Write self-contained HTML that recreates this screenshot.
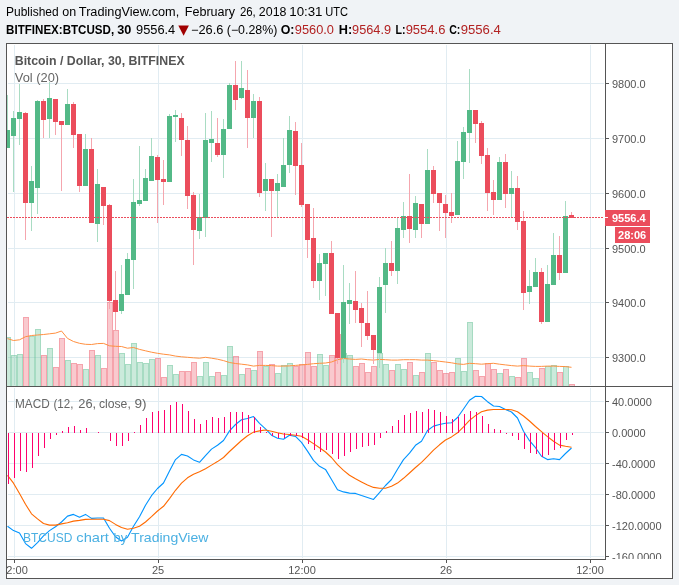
<!DOCTYPE html>
<html><head><meta charset="utf-8"><title>BTCUSD chart</title>
<style>html,body{margin:0;padding:0;background:#f0f3f6}body{width:679px;height:585px;overflow:hidden;font-family:"Liberation Sans",sans-serif}</style></head>
<body>
<svg width="679" height="585" viewBox="0 0 679 585" style="display:block;will-change:transform;font-family:'Liberation Sans',sans-serif">
<rect width="679" height="585" fill="#f0f3f6"/>
<rect x="6" y="43" width="667" height="536" fill="#555555"/>
<rect x="7" y="44" width="665" height="534" fill="#ffffff"/>
<defs>
<clipPath id="main"><rect x="7" y="44" width="598" height="342"/></clipPath>
<clipPath id="macd"><rect x="7" y="387" width="598" height="172"/></clipPath>
<clipPath id="ax2"><rect x="606" y="387" width="66" height="172"/></clipPath>
<clipPath id="tax"><rect x="7" y="560" width="599" height="18"/></clipPath>
</defs>
<g fill="#e1ecf2" shape-rendering="crispEdges">
<rect x="14" y="45" width="1" height="340"/><rect x="14" y="388" width="1" height="170"/>
<rect x="158" y="45" width="1" height="340"/><rect x="158" y="388" width="1" height="170"/>
<rect x="302" y="45" width="1" height="340"/><rect x="302" y="388" width="1" height="170"/>
<rect x="446" y="45" width="1" height="340"/><rect x="446" y="388" width="1" height="170"/>
<rect x="590" y="45" width="1" height="340"/><rect x="590" y="388" width="1" height="170"/>
<rect x="8" y="83" width="596" height="1"/>
<rect x="8" y="138" width="596" height="1"/>
<rect x="8" y="193" width="596" height="1"/>
<rect x="8" y="248" width="596" height="1"/>
<rect x="8" y="302" width="596" height="1"/>
<rect x="8" y="357" width="596" height="1"/>
<rect x="8" y="401" width="596" height="1"/>
<rect x="8" y="432" width="596" height="1"/>
<rect x="8" y="463" width="596" height="1"/>
<rect x="8" y="494" width="596" height="1"/>
<rect x="8" y="525" width="596" height="1"/>
<rect x="8" y="556" width="596" height="1"/>
</g>
<g clip-path="url(#main)" shape-rendering="crispEdges">
<rect x="5" y="337" width="6" height="49" fill="#53b987" fill-opacity="0.3"/>
<path d="M5 337h6v49h-1v-48h-4v48h-1z" fill="#53b987" fill-opacity="0.3"/>
<rect x="11" y="355" width="6" height="31" fill="#53b987" fill-opacity="0.3"/>
<path d="M11 355h6v31h-1v-30h-4v30h-1z" fill="#53b987" fill-opacity="0.3"/>
<rect x="17" y="354" width="6" height="32" fill="#53b987" fill-opacity="0.3"/>
<path d="M17 354h6v32h-1v-31h-4v31h-1z" fill="#53b987" fill-opacity="0.3"/>
<rect x="23" y="317" width="6" height="69" fill="#eb4d5c" fill-opacity="0.3"/>
<path d="M23 317h6v69h-1v-68h-4v68h-1z" fill="#eb4d5c" fill-opacity="0.3"/>
<rect x="29" y="336" width="6" height="50" fill="#53b987" fill-opacity="0.3"/>
<path d="M29 336h6v50h-1v-49h-4v49h-1z" fill="#53b987" fill-opacity="0.3"/>
<rect x="35" y="329" width="6" height="57" fill="#53b987" fill-opacity="0.3"/>
<path d="M35 329h6v57h-1v-56h-4v56h-1z" fill="#53b987" fill-opacity="0.3"/>
<rect x="41" y="355" width="6" height="31" fill="#eb4d5c" fill-opacity="0.3"/>
<path d="M41 355h6v31h-1v-30h-4v30h-1z" fill="#eb4d5c" fill-opacity="0.3"/>
<rect x="47" y="348" width="6" height="38" fill="#53b987" fill-opacity="0.3"/>
<path d="M47 348h6v38h-1v-37h-4v37h-1z" fill="#53b987" fill-opacity="0.3"/>
<rect x="53" y="367" width="6" height="19" fill="#eb4d5c" fill-opacity="0.3"/>
<path d="M53 367h6v19h-1v-18h-4v18h-1z" fill="#eb4d5c" fill-opacity="0.3"/>
<rect x="59" y="338" width="6" height="48" fill="#eb4d5c" fill-opacity="0.3"/>
<path d="M59 338h6v48h-1v-47h-4v47h-1z" fill="#eb4d5c" fill-opacity="0.3"/>
<rect x="65" y="360" width="6" height="26" fill="#53b987" fill-opacity="0.3"/>
<path d="M65 360h6v26h-1v-25h-4v25h-1z" fill="#53b987" fill-opacity="0.3"/>
<rect x="71" y="363" width="6" height="23" fill="#eb4d5c" fill-opacity="0.3"/>
<path d="M71 363h6v23h-1v-22h-4v22h-1z" fill="#eb4d5c" fill-opacity="0.3"/>
<rect x="77" y="364" width="6" height="22" fill="#eb4d5c" fill-opacity="0.3"/>
<path d="M77 364h6v22h-1v-21h-4v21h-1z" fill="#eb4d5c" fill-opacity="0.3"/>
<rect x="83" y="369" width="6" height="17" fill="#53b987" fill-opacity="0.3"/>
<path d="M83 369h6v17h-1v-16h-4v16h-1z" fill="#53b987" fill-opacity="0.3"/>
<rect x="89" y="350" width="6" height="36" fill="#eb4d5c" fill-opacity="0.3"/>
<path d="M89 350h6v36h-1v-35h-4v35h-1z" fill="#eb4d5c" fill-opacity="0.3"/>
<rect x="95" y="355" width="6" height="31" fill="#53b987" fill-opacity="0.3"/>
<path d="M95 355h6v31h-1v-30h-4v30h-1z" fill="#53b987" fill-opacity="0.3"/>
<rect x="101" y="368" width="6" height="18" fill="#eb4d5c" fill-opacity="0.3"/>
<path d="M101 368h6v18h-1v-17h-4v17h-1z" fill="#eb4d5c" fill-opacity="0.3"/>
<rect x="107" y="302" width="6" height="84" fill="#eb4d5c" fill-opacity="0.3"/>
<path d="M107 302h6v84h-1v-83h-4v83h-1z" fill="#eb4d5c" fill-opacity="0.3"/>
<rect x="113" y="330" width="6" height="56" fill="#eb4d5c" fill-opacity="0.3"/>
<path d="M113 330h6v56h-1v-55h-4v55h-1z" fill="#eb4d5c" fill-opacity="0.3"/>
<rect x="119" y="353" width="6" height="33" fill="#53b987" fill-opacity="0.3"/>
<path d="M119 353h6v33h-1v-32h-4v32h-1z" fill="#53b987" fill-opacity="0.3"/>
<rect x="125" y="364" width="6" height="22" fill="#53b987" fill-opacity="0.3"/>
<path d="M125 364h6v22h-1v-21h-4v21h-1z" fill="#53b987" fill-opacity="0.3"/>
<rect x="131" y="343" width="6" height="43" fill="#53b987" fill-opacity="0.3"/>
<path d="M131 343h6v43h-1v-42h-4v42h-1z" fill="#53b987" fill-opacity="0.3"/>
<rect x="137" y="362" width="6" height="24" fill="#53b987" fill-opacity="0.3"/>
<path d="M137 362h6v24h-1v-23h-4v23h-1z" fill="#53b987" fill-opacity="0.3"/>
<rect x="143" y="363" width="6" height="23" fill="#53b987" fill-opacity="0.3"/>
<path d="M143 363h6v23h-1v-22h-4v22h-1z" fill="#53b987" fill-opacity="0.3"/>
<rect x="149" y="359" width="6" height="27" fill="#53b987" fill-opacity="0.3"/>
<path d="M149 359h6v27h-1v-26h-4v26h-1z" fill="#53b987" fill-opacity="0.3"/>
<rect x="155" y="358" width="6" height="28" fill="#eb4d5c" fill-opacity="0.3"/>
<path d="M155 358h6v28h-1v-27h-4v27h-1z" fill="#eb4d5c" fill-opacity="0.3"/>
<rect x="161" y="377" width="6" height="9" fill="#eb4d5c" fill-opacity="0.3"/>
<path d="M161 377h6v9h-1v-8h-4v8h-1z" fill="#eb4d5c" fill-opacity="0.3"/>
<rect x="167" y="365" width="6" height="21" fill="#53b987" fill-opacity="0.3"/>
<path d="M167 365h6v21h-1v-20h-4v20h-1z" fill="#53b987" fill-opacity="0.3"/>
<rect x="173" y="374" width="6" height="12" fill="#53b987" fill-opacity="0.3"/>
<path d="M173 374h6v12h-1v-11h-4v11h-1z" fill="#53b987" fill-opacity="0.3"/>
<rect x="179" y="371" width="6" height="15" fill="#eb4d5c" fill-opacity="0.3"/>
<path d="M179 371h6v15h-1v-14h-4v14h-1z" fill="#eb4d5c" fill-opacity="0.3"/>
<rect x="185" y="371" width="6" height="15" fill="#eb4d5c" fill-opacity="0.3"/>
<path d="M185 371h6v15h-1v-14h-4v14h-1z" fill="#eb4d5c" fill-opacity="0.3"/>
<rect x="191" y="362" width="6" height="24" fill="#eb4d5c" fill-opacity="0.3"/>
<path d="M191 362h6v24h-1v-23h-4v23h-1z" fill="#eb4d5c" fill-opacity="0.3"/>
<rect x="197" y="376" width="6" height="10" fill="#53b987" fill-opacity="0.3"/>
<path d="M197 376h6v10h-1v-9h-4v9h-1z" fill="#53b987" fill-opacity="0.3"/>
<rect x="203" y="362" width="6" height="24" fill="#53b987" fill-opacity="0.3"/>
<path d="M203 362h6v24h-1v-23h-4v23h-1z" fill="#53b987" fill-opacity="0.3"/>
<rect x="209" y="376" width="6" height="10" fill="#53b987" fill-opacity="0.3"/>
<path d="M209 376h6v10h-1v-9h-4v9h-1z" fill="#53b987" fill-opacity="0.3"/>
<rect x="215" y="372" width="6" height="14" fill="#eb4d5c" fill-opacity="0.3"/>
<path d="M215 372h6v14h-1v-13h-4v13h-1z" fill="#eb4d5c" fill-opacity="0.3"/>
<rect x="221" y="375" width="6" height="11" fill="#53b987" fill-opacity="0.3"/>
<path d="M221 375h6v11h-1v-10h-4v10h-1z" fill="#53b987" fill-opacity="0.3"/>
<rect x="227" y="346" width="6" height="40" fill="#53b987" fill-opacity="0.3"/>
<path d="M227 346h6v40h-1v-39h-4v39h-1z" fill="#53b987" fill-opacity="0.3"/>
<rect x="233" y="356" width="6" height="30" fill="#eb4d5c" fill-opacity="0.3"/>
<path d="M233 356h6v30h-1v-29h-4v29h-1z" fill="#eb4d5c" fill-opacity="0.3"/>
<rect x="239" y="374" width="6" height="12" fill="#53b987" fill-opacity="0.3"/>
<path d="M239 374h6v12h-1v-11h-4v11h-1z" fill="#53b987" fill-opacity="0.3"/>
<rect x="245" y="368" width="6" height="18" fill="#eb4d5c" fill-opacity="0.3"/>
<path d="M245 368h6v18h-1v-17h-4v17h-1z" fill="#eb4d5c" fill-opacity="0.3"/>
<rect x="251" y="370" width="6" height="16" fill="#53b987" fill-opacity="0.3"/>
<path d="M251 370h6v16h-1v-15h-4v15h-1z" fill="#53b987" fill-opacity="0.3"/>
<rect x="257" y="351" width="6" height="35" fill="#eb4d5c" fill-opacity="0.3"/>
<path d="M257 351h6v35h-1v-34h-4v34h-1z" fill="#eb4d5c" fill-opacity="0.3"/>
<rect x="263" y="366" width="6" height="20" fill="#53b987" fill-opacity="0.3"/>
<path d="M263 366h6v20h-1v-19h-4v19h-1z" fill="#53b987" fill-opacity="0.3"/>
<rect x="269" y="364" width="6" height="22" fill="#eb4d5c" fill-opacity="0.3"/>
<path d="M269 364h6v22h-1v-21h-4v21h-1z" fill="#eb4d5c" fill-opacity="0.3"/>
<rect x="275" y="373" width="6" height="13" fill="#53b987" fill-opacity="0.3"/>
<path d="M275 373h6v13h-1v-12h-4v12h-1z" fill="#53b987" fill-opacity="0.3"/>
<rect x="281" y="365" width="6" height="21" fill="#53b987" fill-opacity="0.3"/>
<path d="M281 365h6v21h-1v-20h-4v20h-1z" fill="#53b987" fill-opacity="0.3"/>
<rect x="287" y="363" width="6" height="23" fill="#53b987" fill-opacity="0.3"/>
<path d="M287 363h6v23h-1v-22h-4v22h-1z" fill="#53b987" fill-opacity="0.3"/>
<rect x="293" y="366" width="6" height="20" fill="#eb4d5c" fill-opacity="0.3"/>
<path d="M293 366h6v20h-1v-19h-4v19h-1z" fill="#eb4d5c" fill-opacity="0.3"/>
<rect x="299" y="364" width="6" height="22" fill="#eb4d5c" fill-opacity="0.3"/>
<path d="M299 364h6v22h-1v-21h-4v21h-1z" fill="#eb4d5c" fill-opacity="0.3"/>
<rect x="305" y="352" width="6" height="34" fill="#eb4d5c" fill-opacity="0.3"/>
<path d="M305 352h6v34h-1v-33h-4v33h-1z" fill="#eb4d5c" fill-opacity="0.3"/>
<rect x="311" y="366" width="6" height="20" fill="#eb4d5c" fill-opacity="0.3"/>
<path d="M311 366h6v20h-1v-19h-4v19h-1z" fill="#eb4d5c" fill-opacity="0.3"/>
<rect x="317" y="354" width="6" height="32" fill="#53b987" fill-opacity="0.3"/>
<path d="M317 354h6v32h-1v-31h-4v31h-1z" fill="#53b987" fill-opacity="0.3"/>
<rect x="323" y="365" width="6" height="21" fill="#53b987" fill-opacity="0.3"/>
<path d="M323 365h6v21h-1v-20h-4v20h-1z" fill="#53b987" fill-opacity="0.3"/>
<rect x="329" y="355" width="6" height="31" fill="#eb4d5c" fill-opacity="0.3"/>
<path d="M329 355h6v31h-1v-30h-4v30h-1z" fill="#eb4d5c" fill-opacity="0.3"/>
<rect x="335" y="334" width="6" height="52" fill="#eb4d5c" fill-opacity="0.3"/>
<path d="M335 334h6v52h-1v-51h-4v51h-1z" fill="#eb4d5c" fill-opacity="0.3"/>
<rect x="341" y="353" width="6" height="33" fill="#53b987" fill-opacity="0.3"/>
<path d="M341 353h6v33h-1v-32h-4v32h-1z" fill="#53b987" fill-opacity="0.3"/>
<rect x="347" y="355" width="6" height="31" fill="#53b987" fill-opacity="0.3"/>
<path d="M347 355h6v31h-1v-30h-4v30h-1z" fill="#53b987" fill-opacity="0.3"/>
<rect x="353" y="366" width="6" height="20" fill="#eb4d5c" fill-opacity="0.3"/>
<path d="M353 366h6v20h-1v-19h-4v19h-1z" fill="#eb4d5c" fill-opacity="0.3"/>
<rect x="359" y="363" width="6" height="23" fill="#eb4d5c" fill-opacity="0.3"/>
<path d="M359 363h6v23h-1v-22h-4v22h-1z" fill="#eb4d5c" fill-opacity="0.3"/>
<rect x="365" y="372" width="6" height="14" fill="#eb4d5c" fill-opacity="0.3"/>
<path d="M365 372h6v14h-1v-13h-4v13h-1z" fill="#eb4d5c" fill-opacity="0.3"/>
<rect x="371" y="366" width="6" height="20" fill="#eb4d5c" fill-opacity="0.3"/>
<path d="M371 366h6v20h-1v-19h-4v19h-1z" fill="#eb4d5c" fill-opacity="0.3"/>
<rect x="377" y="353" width="6" height="33" fill="#53b987" fill-opacity="0.3"/>
<path d="M377 353h6v33h-1v-32h-4v32h-1z" fill="#53b987" fill-opacity="0.3"/>
<rect x="383" y="364" width="6" height="22" fill="#53b987" fill-opacity="0.3"/>
<path d="M383 364h6v22h-1v-21h-4v21h-1z" fill="#53b987" fill-opacity="0.3"/>
<rect x="389" y="370" width="6" height="16" fill="#eb4d5c" fill-opacity="0.3"/>
<path d="M389 370h6v16h-1v-15h-4v15h-1z" fill="#eb4d5c" fill-opacity="0.3"/>
<rect x="395" y="364" width="6" height="22" fill="#53b987" fill-opacity="0.3"/>
<path d="M395 364h6v22h-1v-21h-4v21h-1z" fill="#53b987" fill-opacity="0.3"/>
<rect x="401" y="369" width="6" height="17" fill="#53b987" fill-opacity="0.3"/>
<path d="M401 369h6v17h-1v-16h-4v16h-1z" fill="#53b987" fill-opacity="0.3"/>
<rect x="407" y="362" width="6" height="24" fill="#eb4d5c" fill-opacity="0.3"/>
<path d="M407 362h6v24h-1v-23h-4v23h-1z" fill="#eb4d5c" fill-opacity="0.3"/>
<rect x="413" y="375" width="6" height="11" fill="#53b987" fill-opacity="0.3"/>
<path d="M413 375h6v11h-1v-10h-4v10h-1z" fill="#53b987" fill-opacity="0.3"/>
<rect x="419" y="372" width="6" height="14" fill="#eb4d5c" fill-opacity="0.3"/>
<path d="M419 372h6v14h-1v-13h-4v13h-1z" fill="#eb4d5c" fill-opacity="0.3"/>
<rect x="425" y="353" width="6" height="33" fill="#53b987" fill-opacity="0.3"/>
<path d="M425 353h6v33h-1v-32h-4v32h-1z" fill="#53b987" fill-opacity="0.3"/>
<rect x="431" y="362" width="6" height="24" fill="#eb4d5c" fill-opacity="0.3"/>
<path d="M431 362h6v24h-1v-23h-4v23h-1z" fill="#eb4d5c" fill-opacity="0.3"/>
<rect x="437" y="370" width="6" height="16" fill="#eb4d5c" fill-opacity="0.3"/>
<path d="M437 370h6v16h-1v-15h-4v15h-1z" fill="#eb4d5c" fill-opacity="0.3"/>
<rect x="443" y="373" width="6" height="13" fill="#eb4d5c" fill-opacity="0.3"/>
<path d="M443 373h6v13h-1v-12h-4v12h-1z" fill="#eb4d5c" fill-opacity="0.3"/>
<rect x="449" y="372" width="6" height="14" fill="#eb4d5c" fill-opacity="0.3"/>
<path d="M449 372h6v14h-1v-13h-4v13h-1z" fill="#eb4d5c" fill-opacity="0.3"/>
<rect x="455" y="358" width="6" height="28" fill="#53b987" fill-opacity="0.3"/>
<path d="M455 358h6v28h-1v-27h-4v27h-1z" fill="#53b987" fill-opacity="0.3"/>
<rect x="461" y="371" width="6" height="15" fill="#53b987" fill-opacity="0.3"/>
<path d="M461 371h6v15h-1v-14h-4v14h-1z" fill="#53b987" fill-opacity="0.3"/>
<rect x="467" y="322" width="6" height="64" fill="#53b987" fill-opacity="0.3"/>
<path d="M467 322h6v64h-1v-63h-4v63h-1z" fill="#53b987" fill-opacity="0.3"/>
<rect x="473" y="370" width="6" height="16" fill="#eb4d5c" fill-opacity="0.3"/>
<path d="M473 370h6v16h-1v-15h-4v15h-1z" fill="#eb4d5c" fill-opacity="0.3"/>
<rect x="479" y="376" width="6" height="10" fill="#eb4d5c" fill-opacity="0.3"/>
<path d="M479 376h6v10h-1v-9h-4v9h-1z" fill="#eb4d5c" fill-opacity="0.3"/>
<rect x="485" y="363" width="6" height="23" fill="#eb4d5c" fill-opacity="0.3"/>
<path d="M485 363h6v23h-1v-22h-4v22h-1z" fill="#eb4d5c" fill-opacity="0.3"/>
<rect x="491" y="369" width="6" height="17" fill="#eb4d5c" fill-opacity="0.3"/>
<path d="M491 369h6v17h-1v-16h-4v16h-1z" fill="#eb4d5c" fill-opacity="0.3"/>
<rect x="497" y="373" width="6" height="13" fill="#53b987" fill-opacity="0.3"/>
<path d="M497 373h6v13h-1v-12h-4v12h-1z" fill="#53b987" fill-opacity="0.3"/>
<rect x="503" y="369" width="6" height="17" fill="#eb4d5c" fill-opacity="0.3"/>
<path d="M503 369h6v17h-1v-16h-4v16h-1z" fill="#eb4d5c" fill-opacity="0.3"/>
<rect x="509" y="376" width="6" height="10" fill="#53b987" fill-opacity="0.3"/>
<path d="M509 376h6v10h-1v-9h-4v9h-1z" fill="#53b987" fill-opacity="0.3"/>
<rect x="515" y="377" width="6" height="9" fill="#eb4d5c" fill-opacity="0.3"/>
<path d="M515 377h6v9h-1v-8h-4v8h-1z" fill="#eb4d5c" fill-opacity="0.3"/>
<rect x="521" y="358" width="6" height="28" fill="#eb4d5c" fill-opacity="0.3"/>
<path d="M521 358h6v28h-1v-27h-4v27h-1z" fill="#eb4d5c" fill-opacity="0.3"/>
<rect x="527" y="372" width="6" height="14" fill="#53b987" fill-opacity="0.3"/>
<path d="M527 372h6v14h-1v-13h-4v13h-1z" fill="#53b987" fill-opacity="0.3"/>
<rect x="533" y="378" width="6" height="8" fill="#53b987" fill-opacity="0.3"/>
<path d="M533 378h6v8h-1v-7h-4v7h-1z" fill="#53b987" fill-opacity="0.3"/>
<rect x="539" y="368" width="6" height="18" fill="#eb4d5c" fill-opacity="0.3"/>
<path d="M539 368h6v18h-1v-17h-4v17h-1z" fill="#eb4d5c" fill-opacity="0.3"/>
<rect x="545" y="366" width="6" height="20" fill="#53b987" fill-opacity="0.3"/>
<path d="M545 366h6v20h-1v-19h-4v19h-1z" fill="#53b987" fill-opacity="0.3"/>
<rect x="551" y="365" width="6" height="21" fill="#53b987" fill-opacity="0.3"/>
<path d="M551 365h6v21h-1v-20h-4v20h-1z" fill="#53b987" fill-opacity="0.3"/>
<rect x="557" y="372" width="6" height="14" fill="#eb4d5c" fill-opacity="0.3"/>
<path d="M557 372h6v14h-1v-13h-4v13h-1z" fill="#eb4d5c" fill-opacity="0.3"/>
<rect x="563" y="366" width="6" height="20" fill="#53b987" fill-opacity="0.3"/>
<path d="M563 366h6v20h-1v-19h-4v19h-1z" fill="#53b987" fill-opacity="0.3"/>
<rect x="569" y="384" width="6" height="2" fill="#eb4d5c" fill-opacity="0.3"/>
<path d="M569 384h6v2h-1v-1h-4v1h-1z" fill="#eb4d5c" fill-opacity="0.3"/>
</g>
<polyline clip-path="url(#main)" points="7.5,338.6 13.5,340.5 19.5,339.8 25.5,336.7 31.5,335.5 37.5,335.0 43.5,334.5 49.5,333.8 55.5,333.1 61.5,331.0 67.5,338.4 73.5,341.5 79.5,343.3 85.5,344.3 91.5,344.5 97.5,343.6 103.5,343.4 109.5,345.8 115.5,346.3 121.5,346.5 127.5,348.2 133.5,347.5 139.5,349.4 145.5,350.8 151.5,352.2 157.5,353.3 163.5,354.2 169.5,354.9 175.5,356.1 181.5,356.8 187.5,357.3 193.5,357.8 199.5,358.2 205.5,357.3 211.5,358.2 217.5,359.2 223.5,360.6 229.5,362.5 235.5,363.5 241.5,364.2 247.5,364.9 253.5,366.1 259.5,365.4 265.5,365.4 271.5,365.6 277.5,366.1 283.5,366.1 289.5,365.9 295.5,365.4 301.5,364.9 307.5,364.4 313.5,363.7 319.5,363.3 325.5,363.0 331.5,362.0 337.5,359.7 343.5,358.5 349.5,359.0 355.5,359.4 361.5,359.0 367.5,359.7 373.5,360.1 379.5,359.4 385.5,359.7 391.5,360.1 397.5,360.1 403.5,359.7 409.5,359.7 415.5,359.7 421.5,360.1 427.5,360.1 433.5,360.6 439.5,361.3 445.5,362.0 451.5,362.8 457.5,363.9 463.5,364.4 469.5,363.3 475.5,363.7 481.5,364.2 487.5,363.7 493.5,363.3 499.5,364.2 505.5,364.9 511.5,365.6 517.5,366.1 523.5,365.6 529.5,366.1 535.5,366.4 541.5,366.4 547.5,366.1 553.5,366.1 559.5,366.4 565.5,366.6 571.5,367.3" fill="none" stroke="#ff9040" stroke-width="1" stroke-linejoin="round"/>
<g clip-path="url(#main)" shape-rendering="crispEdges">
<rect x="7" y="95" width="1" height="53" fill="#a9dcc3"/>
<rect x="5" y="130" width="5" height="18" fill="#53b987"/>
<rect x="13" y="111" width="1" height="81" fill="#a9dcc3"/>
<rect x="11" y="118" width="5" height="18" fill="#53b987"/>
<rect x="19" y="84" width="1" height="61" fill="#a9dcc3"/>
<rect x="17" y="112" width="5" height="7" fill="#53b987"/>
<rect x="25" y="112" width="1" height="128" fill="#f5a6ae"/>
<rect x="23" y="113" width="5" height="90" fill="#eb4d5c"/>
<rect x="31" y="166" width="1" height="65" fill="#a9dcc3"/>
<rect x="29" y="181" width="5" height="22" fill="#53b987"/>
<rect x="37" y="100" width="1" height="114" fill="#a9dcc3"/>
<rect x="35" y="101" width="5" height="87" fill="#53b987"/>
<rect x="43" y="99" width="1" height="39" fill="#f5a6ae"/>
<rect x="41" y="101" width="5" height="19" fill="#eb4d5c"/>
<rect x="49" y="82" width="1" height="56" fill="#a9dcc3"/>
<rect x="47" y="98" width="5" height="21" fill="#53b987"/>
<rect x="55" y="99" width="1" height="36" fill="#f5a6ae"/>
<rect x="53" y="99" width="5" height="23" fill="#eb4d5c"/>
<rect x="61" y="121" width="1" height="70" fill="#f5a6ae"/>
<rect x="59" y="121" width="5" height="4" fill="#eb4d5c"/>
<rect x="67" y="89" width="1" height="36" fill="#a9dcc3"/>
<rect x="65" y="104" width="5" height="21" fill="#53b987"/>
<rect x="73" y="102" width="1" height="46" fill="#f5a6ae"/>
<rect x="71" y="104" width="5" height="31" fill="#eb4d5c"/>
<rect x="79" y="134" width="1" height="58" fill="#f5a6ae"/>
<rect x="77" y="134" width="5" height="52" fill="#eb4d5c"/>
<rect x="85" y="134" width="1" height="52" fill="#a9dcc3"/>
<rect x="83" y="149" width="5" height="37" fill="#53b987"/>
<rect x="91" y="138" width="1" height="85" fill="#f5a6ae"/>
<rect x="89" y="149" width="5" height="74" fill="#eb4d5c"/>
<rect x="97" y="169" width="1" height="73" fill="#a9dcc3"/>
<rect x="95" y="184" width="5" height="40" fill="#53b987"/>
<rect x="103" y="187" width="1" height="38" fill="#f5a6ae"/>
<rect x="101" y="187" width="5" height="19" fill="#eb4d5c"/>
<rect x="109" y="204" width="1" height="105" fill="#f5a6ae"/>
<rect x="107" y="205" width="5" height="96" fill="#eb4d5c"/>
<rect x="115" y="271" width="1" height="60" fill="#f5a6ae"/>
<rect x="113" y="300" width="5" height="12" fill="#eb4d5c"/>
<rect x="121" y="265" width="1" height="49" fill="#a9dcc3"/>
<rect x="119" y="294" width="5" height="17" fill="#53b987"/>
<rect x="127" y="253" width="1" height="42" fill="#a9dcc3"/>
<rect x="125" y="259" width="5" height="36" fill="#53b987"/>
<rect x="133" y="179" width="1" height="110" fill="#a9dcc3"/>
<rect x="131" y="202" width="5" height="58" fill="#53b987"/>
<rect x="139" y="146" width="1" height="60" fill="#a9dcc3"/>
<rect x="137" y="200" width="5" height="4" fill="#53b987"/>
<rect x="145" y="169" width="1" height="32" fill="#a9dcc3"/>
<rect x="143" y="178" width="5" height="23" fill="#53b987"/>
<rect x="151" y="138" width="1" height="43" fill="#a9dcc3"/>
<rect x="149" y="156" width="5" height="25" fill="#53b987"/>
<rect x="157" y="155" width="1" height="68" fill="#f5a6ae"/>
<rect x="155" y="157" width="5" height="23" fill="#eb4d5c"/>
<rect x="163" y="160" width="1" height="45" fill="#f5a6ae"/>
<rect x="161" y="179" width="5" height="3" fill="#eb4d5c"/>
<rect x="169" y="114" width="1" height="68" fill="#a9dcc3"/>
<rect x="167" y="116" width="5" height="66" fill="#53b987"/>
<rect x="175" y="110" width="1" height="32" fill="#a9dcc3"/>
<rect x="173" y="115" width="5" height="2" fill="#53b987"/>
<rect x="181" y="113" width="1" height="43" fill="#f5a6ae"/>
<rect x="179" y="118" width="5" height="22" fill="#eb4d5c"/>
<rect x="187" y="126" width="1" height="83" fill="#f5a6ae"/>
<rect x="185" y="140" width="5" height="56" fill="#eb4d5c"/>
<rect x="193" y="192" width="1" height="73" fill="#f5a6ae"/>
<rect x="191" y="195" width="5" height="35" fill="#eb4d5c"/>
<rect x="199" y="194" width="1" height="45" fill="#a9dcc3"/>
<rect x="197" y="217" width="5" height="14" fill="#53b987"/>
<rect x="205" y="113" width="1" height="124" fill="#a9dcc3"/>
<rect x="203" y="140" width="5" height="78" fill="#53b987"/>
<rect x="211" y="111" width="1" height="51" fill="#a9dcc3"/>
<rect x="209" y="139" width="5" height="4" fill="#53b987"/>
<rect x="217" y="118" width="1" height="39" fill="#f5a6ae"/>
<rect x="215" y="143" width="5" height="12" fill="#eb4d5c"/>
<rect x="223" y="119" width="1" height="59" fill="#a9dcc3"/>
<rect x="221" y="129" width="5" height="26" fill="#53b987"/>
<rect x="229" y="83" width="1" height="46" fill="#a9dcc3"/>
<rect x="227" y="85" width="5" height="44" fill="#53b987"/>
<rect x="235" y="61" width="1" height="49" fill="#f5a6ae"/>
<rect x="233" y="85" width="5" height="15" fill="#eb4d5c"/>
<rect x="241" y="61" width="1" height="38" fill="#a9dcc3"/>
<rect x="239" y="88" width="5" height="10" fill="#53b987"/>
<rect x="247" y="70" width="1" height="78" fill="#f5a6ae"/>
<rect x="245" y="90" width="5" height="28" fill="#eb4d5c"/>
<rect x="253" y="94" width="1" height="44" fill="#a9dcc3"/>
<rect x="251" y="101" width="5" height="17" fill="#53b987"/>
<rect x="259" y="97" width="1" height="100" fill="#f5a6ae"/>
<rect x="257" y="101" width="5" height="92" fill="#eb4d5c"/>
<rect x="265" y="163" width="1" height="48" fill="#a9dcc3"/>
<rect x="263" y="179" width="5" height="12" fill="#53b987"/>
<rect x="271" y="179" width="1" height="58" fill="#f5a6ae"/>
<rect x="269" y="179" width="5" height="12" fill="#eb4d5c"/>
<rect x="277" y="174" width="1" height="44" fill="#a9dcc3"/>
<rect x="275" y="183" width="5" height="8" fill="#53b987"/>
<rect x="283" y="138" width="1" height="49" fill="#a9dcc3"/>
<rect x="281" y="165" width="5" height="22" fill="#53b987"/>
<rect x="289" y="116" width="1" height="57" fill="#a9dcc3"/>
<rect x="287" y="130" width="5" height="35" fill="#53b987"/>
<rect x="295" y="122" width="1" height="73" fill="#f5a6ae"/>
<rect x="293" y="131" width="5" height="35" fill="#eb4d5c"/>
<rect x="301" y="143" width="1" height="64" fill="#f5a6ae"/>
<rect x="299" y="165" width="5" height="40" fill="#eb4d5c"/>
<rect x="307" y="204" width="1" height="54" fill="#f5a6ae"/>
<rect x="305" y="204" width="5" height="36" fill="#eb4d5c"/>
<rect x="313" y="208" width="1" height="80" fill="#f5a6ae"/>
<rect x="311" y="238" width="5" height="43" fill="#eb4d5c"/>
<rect x="319" y="254" width="1" height="46" fill="#a9dcc3"/>
<rect x="317" y="263" width="5" height="18" fill="#53b987"/>
<rect x="325" y="253" width="1" height="43" fill="#a9dcc3"/>
<rect x="323" y="253" width="5" height="11" fill="#53b987"/>
<rect x="331" y="241" width="1" height="73" fill="#f5a6ae"/>
<rect x="329" y="253" width="5" height="61" fill="#eb4d5c"/>
<rect x="337" y="313" width="1" height="51" fill="#f5a6ae"/>
<rect x="335" y="313" width="5" height="45" fill="#eb4d5c"/>
<rect x="343" y="265" width="1" height="98" fill="#a9dcc3"/>
<rect x="341" y="302" width="5" height="56" fill="#53b987"/>
<rect x="349" y="283" width="1" height="41" fill="#a9dcc3"/>
<rect x="347" y="300" width="5" height="4" fill="#53b987"/>
<rect x="355" y="271" width="1" height="52" fill="#f5a6ae"/>
<rect x="353" y="301" width="5" height="9" fill="#eb4d5c"/>
<rect x="361" y="303" width="1" height="44" fill="#f5a6ae"/>
<rect x="359" y="308" width="5" height="15" fill="#eb4d5c"/>
<rect x="367" y="291" width="1" height="49" fill="#f5a6ae"/>
<rect x="365" y="323" width="5" height="13" fill="#eb4d5c"/>
<rect x="373" y="335" width="1" height="29" fill="#f5a6ae"/>
<rect x="371" y="335" width="5" height="15" fill="#eb4d5c"/>
<rect x="379" y="277" width="1" height="91" fill="#a9dcc3"/>
<rect x="377" y="287" width="5" height="66" fill="#53b987"/>
<rect x="385" y="248" width="1" height="65" fill="#a9dcc3"/>
<rect x="383" y="263" width="5" height="22" fill="#53b987"/>
<rect x="391" y="241" width="1" height="35" fill="#f5a6ae"/>
<rect x="389" y="263" width="5" height="8" fill="#eb4d5c"/>
<rect x="397" y="217" width="1" height="67" fill="#a9dcc3"/>
<rect x="395" y="228" width="5" height="43" fill="#53b987"/>
<rect x="403" y="202" width="1" height="36" fill="#a9dcc3"/>
<rect x="401" y="216" width="5" height="14" fill="#53b987"/>
<rect x="409" y="174" width="1" height="69" fill="#f5a6ae"/>
<rect x="407" y="216" width="5" height="13" fill="#eb4d5c"/>
<rect x="415" y="196" width="1" height="42" fill="#a9dcc3"/>
<rect x="413" y="203" width="5" height="27" fill="#53b987"/>
<rect x="421" y="204" width="1" height="34" fill="#f5a6ae"/>
<rect x="419" y="204" width="5" height="20" fill="#eb4d5c"/>
<rect x="427" y="149" width="1" height="75" fill="#a9dcc3"/>
<rect x="425" y="170" width="5" height="54" fill="#53b987"/>
<rect x="433" y="166" width="1" height="37" fill="#f5a6ae"/>
<rect x="431" y="170" width="5" height="24" fill="#eb4d5c"/>
<rect x="439" y="193" width="1" height="38" fill="#f5a6ae"/>
<rect x="437" y="193" width="5" height="10" fill="#eb4d5c"/>
<rect x="445" y="195" width="1" height="43" fill="#f5a6ae"/>
<rect x="443" y="204" width="5" height="9" fill="#eb4d5c"/>
<rect x="451" y="193" width="1" height="30" fill="#f5a6ae"/>
<rect x="449" y="212" width="5" height="4" fill="#eb4d5c"/>
<rect x="457" y="141" width="1" height="74" fill="#a9dcc3"/>
<rect x="455" y="161" width="5" height="54" fill="#53b987"/>
<rect x="463" y="127" width="1" height="52" fill="#a9dcc3"/>
<rect x="461" y="132" width="5" height="30" fill="#53b987"/>
<rect x="469" y="69" width="1" height="94" fill="#a9dcc3"/>
<rect x="467" y="110" width="5" height="23" fill="#53b987"/>
<rect x="475" y="110" width="1" height="33" fill="#f5a6ae"/>
<rect x="473" y="110" width="5" height="14" fill="#eb4d5c"/>
<rect x="481" y="121" width="1" height="43" fill="#f5a6ae"/>
<rect x="479" y="123" width="5" height="33" fill="#eb4d5c"/>
<rect x="487" y="148" width="1" height="63" fill="#f5a6ae"/>
<rect x="485" y="155" width="5" height="38" fill="#eb4d5c"/>
<rect x="493" y="180" width="1" height="35" fill="#f5a6ae"/>
<rect x="491" y="192" width="5" height="8" fill="#eb4d5c"/>
<rect x="499" y="157" width="1" height="43" fill="#a9dcc3"/>
<rect x="497" y="162" width="5" height="38" fill="#53b987"/>
<rect x="505" y="154" width="1" height="54" fill="#f5a6ae"/>
<rect x="503" y="162" width="5" height="32" fill="#eb4d5c"/>
<rect x="511" y="171" width="1" height="47" fill="#a9dcc3"/>
<rect x="509" y="188" width="5" height="6" fill="#53b987"/>
<rect x="517" y="176" width="1" height="54" fill="#f5a6ae"/>
<rect x="515" y="188" width="5" height="34" fill="#eb4d5c"/>
<rect x="523" y="211" width="1" height="99" fill="#f5a6ae"/>
<rect x="521" y="221" width="5" height="72" fill="#eb4d5c"/>
<rect x="529" y="270" width="1" height="34" fill="#a9dcc3"/>
<rect x="527" y="286" width="5" height="6" fill="#53b987"/>
<rect x="535" y="258" width="1" height="29" fill="#a9dcc3"/>
<rect x="533" y="272" width="5" height="15" fill="#53b987"/>
<rect x="541" y="268" width="1" height="56" fill="#f5a6ae"/>
<rect x="539" y="272" width="5" height="50" fill="#eb4d5c"/>
<rect x="547" y="265" width="1" height="57" fill="#a9dcc3"/>
<rect x="545" y="284" width="5" height="38" fill="#53b987"/>
<rect x="553" y="233" width="1" height="52" fill="#a9dcc3"/>
<rect x="551" y="255" width="5" height="30" fill="#53b987"/>
<rect x="559" y="236" width="1" height="44" fill="#f5a6ae"/>
<rect x="557" y="255" width="5" height="18" fill="#eb4d5c"/>
<rect x="565" y="201" width="1" height="72" fill="#a9dcc3"/>
<rect x="563" y="216" width="5" height="57" fill="#53b987"/>
<rect x="571" y="212" width="1" height="6" fill="#f5a6ae"/>
<rect x="569" y="215" width="5" height="3" fill="#eb4d5c"/>
</g>
<g shape-rendering="crispEdges" fill="#eb4d5c">
<rect x="7" y="217" width="2" height="1"/>
<rect x="10" y="217" width="2" height="1"/>
<rect x="13" y="217" width="2" height="1"/>
<rect x="16" y="217" width="2" height="1"/>
<rect x="19" y="217" width="2" height="1"/>
<rect x="22" y="217" width="2" height="1"/>
<rect x="25" y="217" width="2" height="1"/>
<rect x="28" y="217" width="2" height="1"/>
<rect x="31" y="217" width="2" height="1"/>
<rect x="34" y="217" width="2" height="1"/>
<rect x="37" y="217" width="2" height="1"/>
<rect x="40" y="217" width="2" height="1"/>
<rect x="43" y="217" width="2" height="1"/>
<rect x="46" y="217" width="2" height="1"/>
<rect x="49" y="217" width="2" height="1"/>
<rect x="52" y="217" width="2" height="1"/>
<rect x="55" y="217" width="2" height="1"/>
<rect x="58" y="217" width="2" height="1"/>
<rect x="61" y="217" width="2" height="1"/>
<rect x="64" y="217" width="2" height="1"/>
<rect x="67" y="217" width="2" height="1"/>
<rect x="70" y="217" width="2" height="1"/>
<rect x="73" y="217" width="2" height="1"/>
<rect x="76" y="217" width="2" height="1"/>
<rect x="79" y="217" width="2" height="1"/>
<rect x="82" y="217" width="2" height="1"/>
<rect x="85" y="217" width="2" height="1"/>
<rect x="88" y="217" width="2" height="1"/>
<rect x="91" y="217" width="2" height="1"/>
<rect x="94" y="217" width="2" height="1"/>
<rect x="97" y="217" width="2" height="1"/>
<rect x="100" y="217" width="2" height="1"/>
<rect x="103" y="217" width="2" height="1"/>
<rect x="106" y="217" width="2" height="1"/>
<rect x="109" y="217" width="2" height="1"/>
<rect x="112" y="217" width="2" height="1"/>
<rect x="115" y="217" width="2" height="1"/>
<rect x="118" y="217" width="2" height="1"/>
<rect x="121" y="217" width="2" height="1"/>
<rect x="124" y="217" width="2" height="1"/>
<rect x="127" y="217" width="2" height="1"/>
<rect x="130" y="217" width="2" height="1"/>
<rect x="133" y="217" width="2" height="1"/>
<rect x="136" y="217" width="2" height="1"/>
<rect x="139" y="217" width="2" height="1"/>
<rect x="142" y="217" width="2" height="1"/>
<rect x="145" y="217" width="2" height="1"/>
<rect x="148" y="217" width="2" height="1"/>
<rect x="151" y="217" width="2" height="1"/>
<rect x="154" y="217" width="2" height="1"/>
<rect x="157" y="217" width="2" height="1"/>
<rect x="160" y="217" width="2" height="1"/>
<rect x="163" y="217" width="2" height="1"/>
<rect x="166" y="217" width="2" height="1"/>
<rect x="169" y="217" width="2" height="1"/>
<rect x="172" y="217" width="2" height="1"/>
<rect x="175" y="217" width="2" height="1"/>
<rect x="178" y="217" width="2" height="1"/>
<rect x="181" y="217" width="2" height="1"/>
<rect x="184" y="217" width="2" height="1"/>
<rect x="187" y="217" width="2" height="1"/>
<rect x="190" y="217" width="2" height="1"/>
<rect x="193" y="217" width="2" height="1"/>
<rect x="196" y="217" width="2" height="1"/>
<rect x="199" y="217" width="2" height="1"/>
<rect x="202" y="217" width="2" height="1"/>
<rect x="205" y="217" width="2" height="1"/>
<rect x="208" y="217" width="2" height="1"/>
<rect x="211" y="217" width="2" height="1"/>
<rect x="214" y="217" width="2" height="1"/>
<rect x="217" y="217" width="2" height="1"/>
<rect x="220" y="217" width="2" height="1"/>
<rect x="223" y="217" width="2" height="1"/>
<rect x="226" y="217" width="2" height="1"/>
<rect x="229" y="217" width="2" height="1"/>
<rect x="232" y="217" width="2" height="1"/>
<rect x="235" y="217" width="2" height="1"/>
<rect x="238" y="217" width="2" height="1"/>
<rect x="241" y="217" width="2" height="1"/>
<rect x="244" y="217" width="2" height="1"/>
<rect x="247" y="217" width="2" height="1"/>
<rect x="250" y="217" width="2" height="1"/>
<rect x="253" y="217" width="2" height="1"/>
<rect x="256" y="217" width="2" height="1"/>
<rect x="259" y="217" width="2" height="1"/>
<rect x="262" y="217" width="2" height="1"/>
<rect x="265" y="217" width="2" height="1"/>
<rect x="268" y="217" width="2" height="1"/>
<rect x="271" y="217" width="2" height="1"/>
<rect x="274" y="217" width="2" height="1"/>
<rect x="277" y="217" width="2" height="1"/>
<rect x="280" y="217" width="2" height="1"/>
<rect x="283" y="217" width="2" height="1"/>
<rect x="286" y="217" width="2" height="1"/>
<rect x="289" y="217" width="2" height="1"/>
<rect x="292" y="217" width="2" height="1"/>
<rect x="295" y="217" width="2" height="1"/>
<rect x="298" y="217" width="2" height="1"/>
<rect x="301" y="217" width="2" height="1"/>
<rect x="304" y="217" width="2" height="1"/>
<rect x="307" y="217" width="2" height="1"/>
<rect x="310" y="217" width="2" height="1"/>
<rect x="313" y="217" width="2" height="1"/>
<rect x="316" y="217" width="2" height="1"/>
<rect x="319" y="217" width="2" height="1"/>
<rect x="322" y="217" width="2" height="1"/>
<rect x="325" y="217" width="2" height="1"/>
<rect x="328" y="217" width="2" height="1"/>
<rect x="331" y="217" width="2" height="1"/>
<rect x="334" y="217" width="2" height="1"/>
<rect x="337" y="217" width="2" height="1"/>
<rect x="340" y="217" width="2" height="1"/>
<rect x="343" y="217" width="2" height="1"/>
<rect x="346" y="217" width="2" height="1"/>
<rect x="349" y="217" width="2" height="1"/>
<rect x="352" y="217" width="2" height="1"/>
<rect x="355" y="217" width="2" height="1"/>
<rect x="358" y="217" width="2" height="1"/>
<rect x="361" y="217" width="2" height="1"/>
<rect x="364" y="217" width="2" height="1"/>
<rect x="367" y="217" width="2" height="1"/>
<rect x="370" y="217" width="2" height="1"/>
<rect x="373" y="217" width="2" height="1"/>
<rect x="376" y="217" width="2" height="1"/>
<rect x="379" y="217" width="2" height="1"/>
<rect x="382" y="217" width="2" height="1"/>
<rect x="385" y="217" width="2" height="1"/>
<rect x="388" y="217" width="2" height="1"/>
<rect x="391" y="217" width="2" height="1"/>
<rect x="394" y="217" width="2" height="1"/>
<rect x="397" y="217" width="2" height="1"/>
<rect x="400" y="217" width="2" height="1"/>
<rect x="403" y="217" width="2" height="1"/>
<rect x="406" y="217" width="2" height="1"/>
<rect x="409" y="217" width="2" height="1"/>
<rect x="412" y="217" width="2" height="1"/>
<rect x="415" y="217" width="2" height="1"/>
<rect x="418" y="217" width="2" height="1"/>
<rect x="421" y="217" width="2" height="1"/>
<rect x="424" y="217" width="2" height="1"/>
<rect x="427" y="217" width="2" height="1"/>
<rect x="430" y="217" width="2" height="1"/>
<rect x="433" y="217" width="2" height="1"/>
<rect x="436" y="217" width="2" height="1"/>
<rect x="439" y="217" width="2" height="1"/>
<rect x="442" y="217" width="2" height="1"/>
<rect x="445" y="217" width="2" height="1"/>
<rect x="448" y="217" width="2" height="1"/>
<rect x="451" y="217" width="2" height="1"/>
<rect x="454" y="217" width="2" height="1"/>
<rect x="457" y="217" width="2" height="1"/>
<rect x="460" y="217" width="2" height="1"/>
<rect x="463" y="217" width="2" height="1"/>
<rect x="466" y="217" width="2" height="1"/>
<rect x="469" y="217" width="2" height="1"/>
<rect x="472" y="217" width="2" height="1"/>
<rect x="475" y="217" width="2" height="1"/>
<rect x="478" y="217" width="2" height="1"/>
<rect x="481" y="217" width="2" height="1"/>
<rect x="484" y="217" width="2" height="1"/>
<rect x="487" y="217" width="2" height="1"/>
<rect x="490" y="217" width="2" height="1"/>
<rect x="493" y="217" width="2" height="1"/>
<rect x="496" y="217" width="2" height="1"/>
<rect x="499" y="217" width="2" height="1"/>
<rect x="502" y="217" width="2" height="1"/>
<rect x="505" y="217" width="2" height="1"/>
<rect x="508" y="217" width="2" height="1"/>
<rect x="511" y="217" width="2" height="1"/>
<rect x="514" y="217" width="2" height="1"/>
<rect x="517" y="217" width="2" height="1"/>
<rect x="520" y="217" width="2" height="1"/>
<rect x="523" y="217" width="2" height="1"/>
<rect x="526" y="217" width="2" height="1"/>
<rect x="529" y="217" width="2" height="1"/>
<rect x="532" y="217" width="2" height="1"/>
<rect x="535" y="217" width="2" height="1"/>
<rect x="538" y="217" width="2" height="1"/>
<rect x="541" y="217" width="2" height="1"/>
<rect x="544" y="217" width="2" height="1"/>
<rect x="547" y="217" width="2" height="1"/>
<rect x="550" y="217" width="2" height="1"/>
<rect x="553" y="217" width="2" height="1"/>
<rect x="556" y="217" width="2" height="1"/>
<rect x="559" y="217" width="2" height="1"/>
<rect x="562" y="217" width="2" height="1"/>
<rect x="565" y="217" width="2" height="1"/>
<rect x="568" y="217" width="2" height="1"/>
<rect x="571" y="217" width="2" height="1"/>
<rect x="574" y="217" width="2" height="1"/>
<rect x="577" y="217" width="2" height="1"/>
<rect x="580" y="217" width="2" height="1"/>
<rect x="583" y="217" width="2" height="1"/>
<rect x="586" y="217" width="2" height="1"/>
<rect x="589" y="217" width="2" height="1"/>
<rect x="592" y="217" width="2" height="1"/>
<rect x="595" y="217" width="2" height="1"/>
<rect x="598" y="217" width="2" height="1"/>
<rect x="601" y="217" width="2" height="1"/>
</g>
<polyline clip-path="url(#macd)" points="7.5,526.3 13.5,530.6 19.5,533.0 25.5,543.6 31.5,548.3 37.5,542.6 43.5,535.9 49.5,530.6 55.5,526.8 61.5,522.0 67.5,516.1 73.5,514.4 79.5,517.2 85.5,514.4 91.5,518.4 97.5,518.0 103.5,518.0 109.5,528.2 115.5,536.7 121.5,541.0 127.5,537.3 133.5,526.3 139.5,516.8 145.5,505.3 151.5,495.7 157.5,488.5 163.5,483.0 169.5,471.1 175.5,459.6 181.5,454.4 187.5,456.0 193.5,459.9 199.5,462.3 205.5,455.6 211.5,449.1 217.5,445.3 223.5,440.5 229.5,430.9 235.5,424.5 241.5,419.7 247.5,418.5 253.5,416.6 259.5,423.3 265.5,428.8 271.5,435.2 277.5,438.3 283.5,439.3 289.5,435.2 295.5,436.4 301.5,442.4 307.5,451.1 313.5,460.4 319.5,466.3 325.5,469.4 331.5,479.5 337.5,489.8 343.5,491.9 349.5,493.1 355.5,493.4 361.5,495.5 367.5,497.4 373.5,499.4 379.5,492.7 385.5,485.5 391.5,479.5 397.5,469.2 403.5,459.6 409.5,453.2 415.5,445.3 421.5,441.2 427.5,430.5 433.5,426.1 439.5,424.5 445.5,423.3 451.5,422.8 457.5,417.5 463.5,409.0 469.5,400.3 475.5,396.2 481.5,396.5 487.5,401.7 493.5,406.0 499.5,406.5 505.5,409.4 511.5,412.0 517.5,418.0 523.5,431.2 529.5,440.7 535.5,447.7 541.5,456.3 547.5,459.6 553.5,458.7 559.5,459.6 565.5,453.5 571.5,448.0" fill="none" stroke="#0094ff" stroke-width="1.1" stroke-linejoin="round"/>
<polyline clip-path="url(#macd)" points="7.5,475.4 13.5,483.2 19.5,493.5 25.5,504.2 31.5,513.8 37.5,518.9 43.5,523.5 49.5,525.1 55.5,525.1 61.5,523.9 67.5,522.8 73.5,521.1 79.5,520.4 85.5,519.4 91.5,519.2 97.5,519.2 103.5,519.2 109.5,520.6 115.5,524.4 121.5,527.5 127.5,529.2 133.5,528.3 139.5,526.3 145.5,522.0 151.5,516.7 157.5,511.0 163.5,506.3 169.5,498.6 175.5,490.3 181.5,483.1 187.5,477.8 193.5,474.2 199.5,471.8 205.5,468.7 211.5,465.1 217.5,461.6 223.5,457.5 229.5,451.5 235.5,446.0 241.5,440.5 247.5,435.7 253.5,432.1 259.5,430.9 265.5,430.0 271.5,431.2 277.5,432.8 283.5,434.0 289.5,434.5 295.5,435.2 301.5,436.2 307.5,439.7 313.5,443.6 319.5,447.7 325.5,452.0 331.5,457.5 337.5,464.7 343.5,470.4 349.5,475.2 355.5,478.8 361.5,481.9 367.5,485.0 373.5,487.4 379.5,488.3 385.5,488.3 391.5,486.2 397.5,483.1 403.5,478.3 409.5,473.0 415.5,467.5 421.5,462.3 427.5,456.3 433.5,450.1 439.5,444.8 445.5,440.0 451.5,436.9 457.5,432.8 463.5,426.9 469.5,420.4 475.5,415.6 481.5,411.8 487.5,410.1 493.5,409.5 499.5,409.5 505.5,409.5 511.5,409.7 517.5,411.7 523.5,416.0 529.5,421.0 535.5,426.5 541.5,431.6 547.5,436.6 553.5,441.2 559.5,445.1 565.5,446.3 571.5,447.3" fill="none" stroke="#ff6a00" stroke-width="1.1" stroke-linejoin="round"/>
<g clip-path="url(#macd)" shape-rendering="crispEdges" fill="#ff006e">
<rect x="8" y="433" width="1" height="51"/>
<rect x="14" y="433" width="1" height="45"/>
<rect x="20" y="433" width="1" height="38"/>
<rect x="26" y="433" width="1" height="39"/>
<rect x="32" y="433" width="1" height="35"/>
<rect x="38" y="433" width="1" height="23"/>
<rect x="44" y="433" width="1" height="15"/>
<rect x="50" y="433" width="1" height="6"/>
<rect x="56" y="433" width="1" height="2"/>
<rect x="62" y="431" width="1" height="2"/>
<rect x="68" y="427" width="1" height="6"/>
<rect x="74" y="426" width="1" height="7"/>
<rect x="80" y="430" width="1" height="3"/>
<rect x="86" y="428" width="1" height="5"/>
<rect x="98" y="432" width="1" height="1"/>
<rect x="110" y="433" width="1" height="8"/>
<rect x="116" y="433" width="1" height="13"/>
<rect x="122" y="433" width="1" height="13"/>
<rect x="128" y="433" width="1" height="8"/>
<rect x="134" y="432" width="1" height="1"/>
<rect x="140" y="425" width="1" height="8"/>
<rect x="146" y="418" width="1" height="15"/>
<rect x="152" y="412" width="1" height="21"/>
<rect x="158" y="411" width="1" height="22"/>
<rect x="164" y="410" width="1" height="23"/>
<rect x="170" y="405" width="1" height="28"/>
<rect x="176" y="402" width="1" height="31"/>
<rect x="182" y="404" width="1" height="29"/>
<rect x="188" y="411" width="1" height="22"/>
<rect x="194" y="419" width="1" height="14"/>
<rect x="200" y="424" width="1" height="9"/>
<rect x="206" y="420" width="1" height="13"/>
<rect x="212" y="417" width="1" height="16"/>
<rect x="218" y="418" width="1" height="15"/>
<rect x="224" y="417" width="1" height="16"/>
<rect x="230" y="412" width="1" height="21"/>
<rect x="236" y="412" width="1" height="21"/>
<rect x="242" y="412" width="1" height="21"/>
<rect x="248" y="415" width="1" height="18"/>
<rect x="254" y="417" width="1" height="16"/>
<rect x="260" y="427" width="1" height="6"/>
<rect x="266" y="432" width="1" height="1"/>
<rect x="272" y="433" width="1" height="3"/>
<rect x="278" y="433" width="1" height="5"/>
<rect x="284" y="433" width="1" height="5"/>
<rect x="290" y="433" width="1" height="3"/>
<rect x="296" y="433" width="1" height="3"/>
<rect x="302" y="433" width="1" height="5"/>
<rect x="308" y="433" width="1" height="11"/>
<rect x="314" y="433" width="1" height="17"/>
<rect x="320" y="433" width="1" height="19"/>
<rect x="326" y="433" width="1" height="17"/>
<rect x="332" y="433" width="1" height="21"/>
<rect x="338" y="433" width="1" height="26"/>
<rect x="344" y="433" width="1" height="23"/>
<rect x="350" y="433" width="1" height="19"/>
<rect x="356" y="433" width="1" height="16"/>
<rect x="362" y="433" width="1" height="14"/>
<rect x="368" y="433" width="1" height="13"/>
<rect x="374" y="433" width="1" height="12"/>
<rect x="380" y="433" width="1" height="5"/>
<rect x="386" y="431" width="1" height="2"/>
<rect x="392" y="426" width="1" height="7"/>
<rect x="398" y="420" width="1" height="13"/>
<rect x="404" y="415" width="1" height="18"/>
<rect x="410" y="413" width="1" height="20"/>
<rect x="416" y="411" width="1" height="22"/>
<rect x="422" y="412" width="1" height="21"/>
<rect x="428" y="409" width="1" height="24"/>
<rect x="434" y="410" width="1" height="23"/>
<rect x="440" y="412" width="1" height="21"/>
<rect x="446" y="416" width="1" height="17"/>
<rect x="452" y="419" width="1" height="14"/>
<rect x="458" y="417" width="1" height="16"/>
<rect x="464" y="414" width="1" height="19"/>
<rect x="470" y="411" width="1" height="22"/>
<rect x="476" y="412" width="1" height="21"/>
<rect x="482" y="416" width="1" height="17"/>
<rect x="488" y="424" width="1" height="9"/>
<rect x="494" y="429" width="1" height="4"/>
<rect x="500" y="430" width="1" height="3"/>
<rect x="506" y="433" width="1" height="1"/>
<rect x="512" y="433" width="1" height="3"/>
<rect x="518" y="433" width="1" height="7"/>
<rect x="524" y="433" width="1" height="16"/>
<rect x="530" y="433" width="1" height="20"/>
<rect x="536" y="433" width="1" height="21"/>
<rect x="542" y="433" width="1" height="24"/>
<rect x="548" y="433" width="1" height="22"/>
<rect x="554" y="433" width="1" height="17"/>
<rect x="560" y="433" width="1" height="15"/>
<rect x="566" y="433" width="1" height="7"/>
<rect x="572" y="433" width="1" height="2"/>
</g>
<g fill="#555555" shape-rendering="crispEdges">
<rect x="605" y="44" width="1" height="516"/>
<rect x="7" y="386" width="665" height="1"/>
<rect x="7" y="559" width="599" height="1"/>
<rect x="606" y="83" width="3" height="1"/>
<rect x="606" y="138" width="3" height="1"/>
<rect x="606" y="193" width="3" height="1"/>
<rect x="606" y="248" width="3" height="1"/>
<rect x="606" y="302" width="3" height="1"/>
<rect x="606" y="357" width="3" height="1"/>
<rect x="606" y="401" width="3" height="1"/>
<rect x="606" y="432" width="3" height="1"/>
<rect x="606" y="463" width="3" height="1"/>
<rect x="606" y="494" width="3" height="1"/>
<rect x="606" y="525" width="3" height="1"/>
<rect x="606" y="556" width="3" height="1"/>
<rect x="14" y="560" width="1" height="3"/>
<rect x="158" y="560" width="1" height="3"/>
<rect x="302" y="560" width="1" height="3"/>
<rect x="446" y="560" width="1" height="3"/>
<rect x="590" y="560" width="1" height="3"/>
</g>
<g fill="#555555" font-size="11px">
<text x="612" y="87.8">9800.0</text>
<text x="612" y="142.8">9700.0</text>
<text x="612" y="197.8">9600.0</text>
<text x="612" y="252.8">9500.0</text>
<text x="612" y="306.8">9400.0</text>
<text x="612" y="361.8">9300.0</text>
<g clip-path="url(#ax2)">
<text x="612" y="405.8">40.0000</text>
<text x="612" y="436.8">0.0000</text>
<text x="612" y="467.8">-40.0000</text>
<text x="612" y="498.8">-80.0000</text>
<text x="612" y="529.8">-120.0000</text>
<text x="612" y="560.8">-160.0000</text>
</g>
<g clip-path="url(#tax)" text-anchor="middle">
<text x="14" y="574">12:00</text>
<text x="158" y="574">25</text>
<text x="302" y="574">12:00</text>
<text x="446" y="574">26</text>
<text x="590" y="574">12:00</text>
</g>
</g>
<rect x="605" y="210" width="45" height="16" fill="#eb4d5c"/>
<rect x="605" y="217" width="3" height="1" fill="#ffffff" shape-rendering="crispEdges"/>
<rect x="615" y="227" width="35" height="16" fill="#eb4d5c"/>
<g fill="#ffffff" font-size="11px" font-weight="bold">
<text x="612" y="222">9556.4</text>
<text x="618" y="239" textLength="28.2" lengthAdjust="spacingAndGlyphs">28:06</text>
</g>
<text x="6.09" y="15.7" font-size="12px" fill="#000000" textLength="52.53" lengthAdjust="spacingAndGlyphs">Published</text>
<text x="62.26" y="15.7" font-size="12px" fill="#000000" textLength="13.91" lengthAdjust="spacingAndGlyphs">on</text>
<text x="78.85" y="15.7" font-size="12px" fill="#000000" textLength="100.37" lengthAdjust="spacingAndGlyphs">TradingView.com,</text>
<text x="184.81" y="15.7" font-size="12px" fill="#000000" textLength="50.26" lengthAdjust="spacingAndGlyphs">February</text>
<text x="239.89" y="15.7" font-size="12px" fill="#000000" textLength="15.92" lengthAdjust="spacingAndGlyphs">26,</text>
<text x="258.88" y="15.7" font-size="12px" fill="#000000" textLength="27.59" lengthAdjust="spacingAndGlyphs">2018</text>
<text x="289.26" y="15.7" font-size="12px" fill="#000000" textLength="33.26" lengthAdjust="spacingAndGlyphs">10:31</text>
<text x="325.31" y="15.7" font-size="12px" fill="#000000" textLength="22.84" lengthAdjust="spacingAndGlyphs">UTC</text>
<text x="6.09" y="33.8" font-size="12px" font-weight="bold" fill="#000000" textLength="108.07" lengthAdjust="spacingAndGlyphs">BITFINEX:BTCUSD,</text>
<text x="117.3" y="33.8" font-size="12px" font-weight="bold" fill="#000000" textLength="14.12" lengthAdjust="spacingAndGlyphs">30</text>
<text x="136.02" y="33.8" font-size="12px" fill="#000000" textLength="39.21" lengthAdjust="spacingAndGlyphs">9556.4</text>
<text x="191.03" y="33.8" font-size="12px" fill="#000000" textLength="32.43" lengthAdjust="spacingAndGlyphs">−26.6</text>
<text x="226.75" y="33.8" font-size="12px" fill="#000000" textLength="50.63" lengthAdjust="spacingAndGlyphs">(−0.28%)</text>
<text x="280.73" y="33.8" font-size="12px" font-weight="bold" fill="#000000" textLength="13.78" lengthAdjust="spacingAndGlyphs">O:</text>
<text x="294.81" y="33.8" font-size="12px" fill="#b22222" textLength="39.17" lengthAdjust="spacingAndGlyphs">9560.0</text>
<text x="338.82" y="33.8" font-size="12px" font-weight="bold" fill="#000000" textLength="13.41" lengthAdjust="spacingAndGlyphs">H:</text>
<text x="352.09" y="33.8" font-size="12px" fill="#b22222" textLength="38.94" lengthAdjust="spacingAndGlyphs">9564.9</text>
<text x="395.56" y="33.8" font-size="12px" font-weight="bold" fill="#000000" textLength="10.0" lengthAdjust="spacingAndGlyphs">L:</text>
<text x="405.67" y="33.8" font-size="12px" fill="#b22222" textLength="39.7" lengthAdjust="spacingAndGlyphs">9554.6</text>
<text x="449.16" y="33.8" font-size="12px" font-weight="bold" fill="#000000" textLength="11.19" lengthAdjust="spacingAndGlyphs">C:</text>
<text x="460.69" y="33.8" font-size="12px" fill="#b22222" textLength="40.16" lengthAdjust="spacingAndGlyphs">9556.4</text>
<text x="14.79" y="65.2" font-size="12px" font-weight="bold" fill="#555555" textLength="169.87" lengthAdjust="spacingAndGlyphs">Bitcoin / Dollar, 30, BITFINEX</text>
<text x="14.86" y="81.6" font-size="12px" fill="#666666" textLength="44.26" lengthAdjust="spacingAndGlyphs">Vol (20)</text>
<text x="15.01" y="407.6" font-size="12px" fill="#666666" textLength="34.65" lengthAdjust="spacingAndGlyphs">MACD</text>
<text x="53.47" y="407.6" font-size="12px" fill="#666666" textLength="19.95" lengthAdjust="spacingAndGlyphs">(12,</text>
<text x="78.29" y="407.6" font-size="12px" fill="#666666" textLength="17.86" lengthAdjust="spacingAndGlyphs">26,</text>
<text x="98.94" y="407.6" font-size="12px" fill="#666666" textLength="31.85" lengthAdjust="spacingAndGlyphs">close,</text>
<text x="134.52" y="407.6" font-size="12px" fill="#666666" textLength="12.06" lengthAdjust="spacingAndGlyphs">9)</text>
<text x="23.05" y="541.7" font-size="13px" fill="#4bb0e2" textLength="49.29" lengthAdjust="spacingAndGlyphs">BTCUSD</text>
<text x="76.34" y="541.7" font-size="13px" fill="#4bb0e2" textLength="32.6" lengthAdjust="spacingAndGlyphs">chart</text>
<text x="113.53" y="541.7" font-size="13px" fill="#4bb0e2" textLength="13.62" lengthAdjust="spacingAndGlyphs">by</text>
<text x="131.07" y="541.7" font-size="13px" fill="#4bb0e2" textLength="77.38" lengthAdjust="spacingAndGlyphs">TradingView</text>
<path d="M178.3 25.6h10.6l-5.3 10.2z" fill="#a00000"/>
</svg>
</body></html>
